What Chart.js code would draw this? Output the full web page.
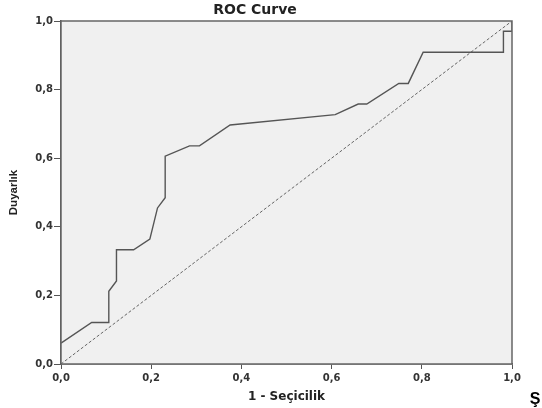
<!DOCTYPE html>
<html>
<head>
<meta charset="utf-8">
<script src="https://cdn.jsdelivr.net/npm/chart.js@4"></script>
<style>
  html, body { margin: 0; padding: 0; background: #fff; }
  #wrap { width: 542px; height: 408px; }
</style>
</head>
<body>
<div id="wrap"><canvas id="roc" width="542" height="408"></canvas></div>
<script>
// 1 - specificity (x) and sensitivity (y)
const fpr = [0, 0.068, 0.106, 0.106, 0.123, 0.123, 0.161, 0.197, 0.214, 0.231, 0.231, 0.285, 0.307, 0.375, 0.608, 0.659, 0.678, 0.749, 0.770, 0.803, 0.981, 0.981, 1.0, 1.0];
const tpr = [0.061, 0.121, 0.121, 0.212, 0.242, 0.333, 0.333, 0.364, 0.455, 0.485, 0.606, 0.636, 0.636, 0.697, 0.727, 0.758, 0.758, 0.818, 0.818, 0.909, 0.909, 0.970, 0.970, 1.0];
const refX = [0, 1];
const refY = [0, 1];
const tickValues = [0, 0.2, 0.4, 0.6, 0.8, 1.0];

const titleText = 'ROC Curve';
const xTitle = '1 - Seçicilik';
const yTitle = 'Duyarlık';
const cornerText = 'Ş';

const fmt = v => v.toFixed(1).replace('.', ',');

const plotFrame = {
    id: 'plotFrame',
    beforeDatasetsDraw(chart) {
        const { ctx, chartArea: a } = chart;
        ctx.save();
        ctx.fillStyle = '#f0f0f0';
        ctx.fillRect(a.left, a.top, a.right - a.left, a.bottom - a.top);
        ctx.restore();
    },
    afterDraw(chart) {
        const { ctx, chartArea: a } = chart;
        ctx.save();
        ctx.strokeStyle = '#666';
        ctx.lineWidth = 1.5;
        ctx.strokeRect(a.left, a.top, a.right - a.left, a.bottom - a.top);
        ctx.fillStyle = '#222';
        ctx.textAlign = 'center';
        ctx.textBaseline = 'middle';
        ctx.font = 'bold 14px "DejaVu Sans"';
        ctx.fillText(titleText, 255, 10);
        ctx.fillStyle = '#000';
        ctx.font = 'bold 16px "Liberation Sans"';
        ctx.textBaseline = 'alphabetic';
        ctx.fillText(cornerText, 535, 404);
        ctx.restore();
    }
};

const tickFont = { family: 'DejaVu Sans', size: 10, weight: 'bold' };

new Chart(document.getElementById('roc'), {
    type: 'line',
    data: {
        datasets: [
            {
                data: fpr.map((x, i) => ({ x, y: tpr[i] })),
                borderColor: '#555',
                borderWidth: 1.4,
                pointRadius: 0,
                tension: 0,
                fill: false
            },
            {
                data: refX.map((x, i) => ({ x, y: refY[i] })),
                borderColor: '#666',
                borderWidth: 1,
                borderDash: [3, 2],
                pointRadius: 0,
                fill: false
            }
        ]
    },
    options: {
        responsive: false,
        animation: false,
        layout: { padding: { top: 21, right: 30, left: 0, bottom: 0 } },
        plugins: {
            legend: { display: false },
            tooltip: { enabled: false }
        },
        scales: {
            x: {
                type: 'linear',
                min: 0,
                max: 1,
                afterFit: s => { s.height = 44; },
                afterBuildTicks: s => { s.ticks = tickValues.map(value => ({ value })); },
                ticks: { callback: fmt, font: tickFont, color: '#333', padding: 3, maxRotation: 0 },
                grid: { drawOnChartArea: false, drawTicks: true, tickLength: 5, color: '#555' },
                border: { display: true, color: '#555', width: 1.5 },
                title: {
                    display: true,
                    text: xTitle,
                    color: '#222',
                    font: { family: 'DejaVu Sans', size: 12, weight: 'bold' },
                    padding: { top: 0, bottom: 4 }
                }
            },
            y: {
                type: 'linear',
                min: 0,
                max: 1,
                afterFit: s => { s.width = 61; },
                afterBuildTicks: s => { s.ticks = tickValues.map(value => ({ value })); },
                ticks: { callback: fmt, font: tickFont, color: '#333', padding: 1 },
                grid: { drawOnChartArea: false, drawTicks: true, tickLength: 7, color: '#555' },
                border: { display: true, color: '#555', width: 1.5 },
                title: {
                    display: true,
                    text: yTitle,
                    color: '#222',
                    font: { family: 'Liberation Sans', size: 11.5, weight: 'bold' },
                    padding: { top: 7, bottom: 0 }
                }
            }
        }
    },
    plugins: [plotFrame]
});
</script>
</body>
</html>
